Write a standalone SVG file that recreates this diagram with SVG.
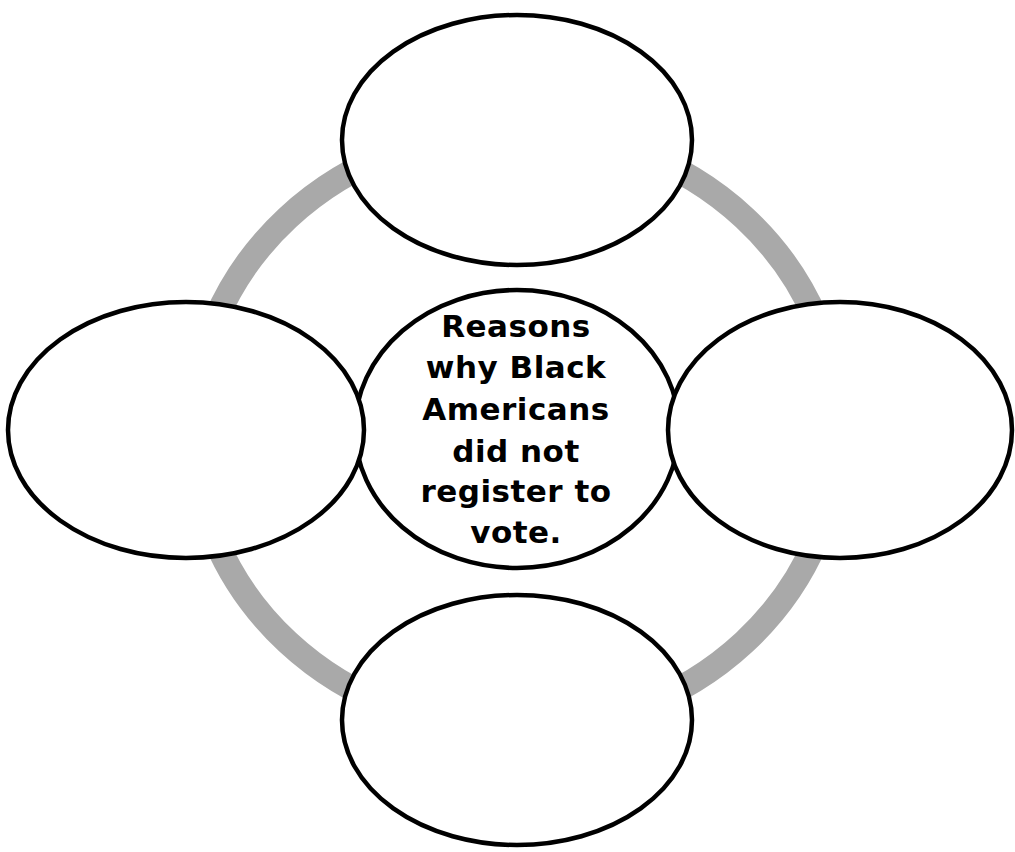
<svg xmlns="http://www.w3.org/2000/svg" width="1015" height="852" viewBox="0 0 1015 852">
<style>
.node{fill:#fff;stroke:#000;stroke-width:4.5}
.ring{fill:none;stroke:#a9a9a9;stroke-width:25}
.lbl{font-family:"DejaVu Sans","Liberation Sans",sans-serif;font-weight:bold;font-size:31px;letter-spacing:0.5px;text-anchor:middle;fill:#000}
</style>
<rect width="1015" height="852" fill="#fff"/>
<g id="connectors">
<ellipse class="ring" cx="516" cy="430" rx="323" ry="300"/>
</g>
<g id="center">
<ellipse class="node" cx="517" cy="429" rx="162" ry="139"/>
<text class="lbl" x="516" y="337">Reasons</text>
<text class="lbl" x="516" y="378">why Black</text>
<text class="lbl" x="516" y="420">Americans</text>
<text class="lbl" x="516" y="462">did not</text>
<text class="lbl" x="516" y="502">register to</text>
<text class="lbl" x="516" y="543">vote.</text>
</g>
<g id="top"><ellipse class="node" cx="517" cy="140" rx="175" ry="125"/></g>
<g id="left"><ellipse class="node" cx="186" cy="430" rx="178" ry="128"/></g>
<g id="right"><ellipse class="node" cx="840" cy="430" rx="172" ry="128"/></g>
<g id="bottom"><ellipse class="node" cx="517" cy="720" rx="175" ry="125"/></g>
</svg>
